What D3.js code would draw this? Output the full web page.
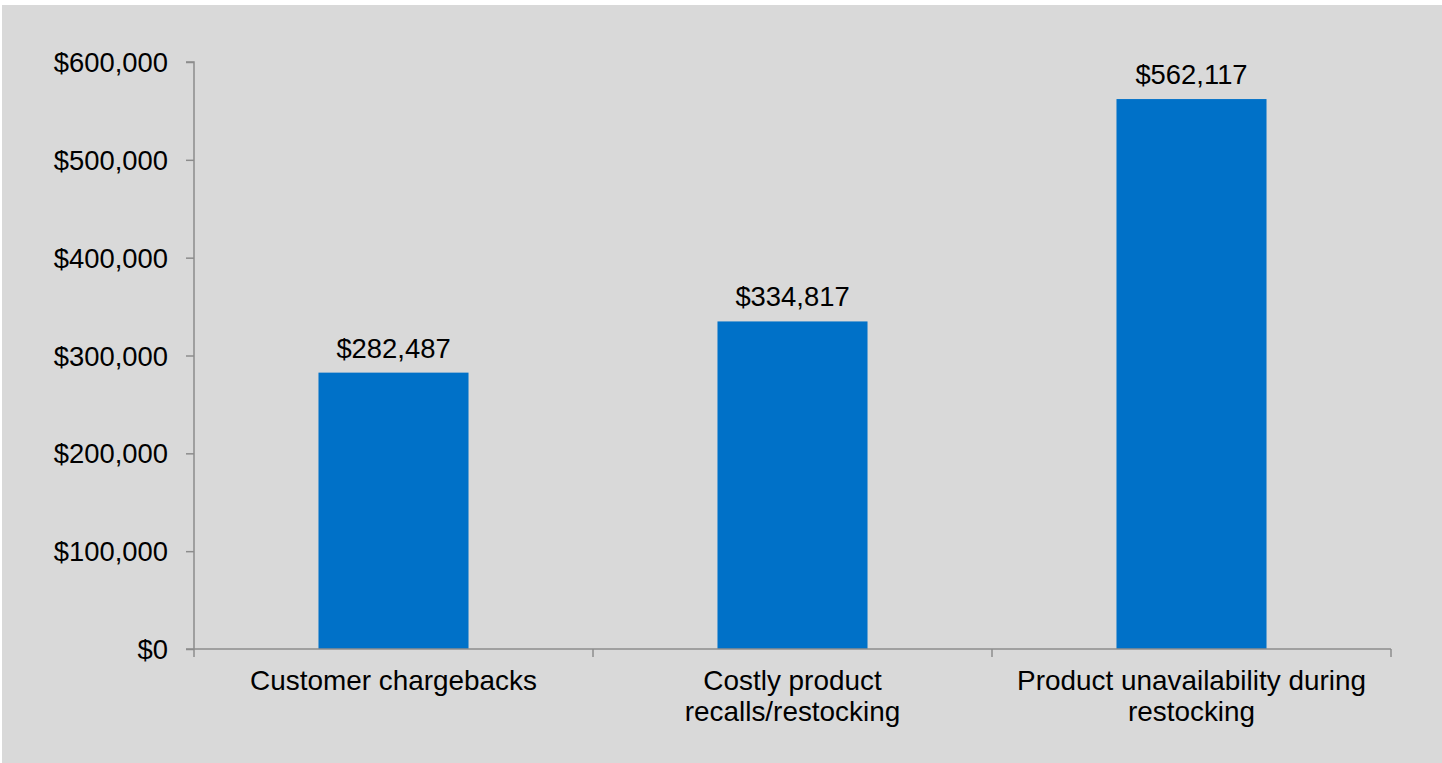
<!DOCTYPE html>
<html>
<head>
<meta charset="utf-8">
<script src="https://cdn.jsdelivr.net/npm/d3@7"></script>
<style>
  html, body { margin: 0; padding: 0; background: #ffffff; }
  svg { display: block; }
  text { font-family: "Liberation Sans", Arial, sans-serif; fill: #000; }
</style>
</head>
<body>
<svg id="chart" width="1442" height="763"></svg>
<script>
// Cost categories (each label broken into display lines) and their values
const categories = [
  ["Customer chargebacks"],
  ["Costly product", "recalls/restocking"],
  ["Product unavailability during", "restocking"]
];
const values = [282487, 334817, 562117];
const yTicks = [0, 100000, 200000, 300000, 400000, 500000, 600000];

const svg = d3.select("#chart");
const W = 1442, H = 763;

// panel background
svg.append("rect").attr("x", 2).attr("y", 5)
  .attr("width", W - 2).attr("height", H - 5).attr("fill", "#d9d9d9");

const plotLeft = 194, plotRight = 1391, plotTop = 62, plotBottom = 649;
const numSize = 27.4;
const catSize = 27.9;
const axisColor = "#8c8c8c";

const keys = categories.map((c, i) => i);
const x = d3.scaleBand().domain(keys).range([plotLeft, plotRight]).paddingInner(0.624).paddingOuter(0.312);
const xOuter = d3.scaleBand().domain(keys).range([plotLeft, plotRight]);
const y = d3.scaleLinear().domain([0, 600000]).range([plotBottom, plotTop]);

const fmt = v => "$" + d3.format(",")(v);

// bars
svg.append("g").selectAll("rect").data(values).join("rect")
  .attr("x", (d, i) => x(i))
  .attr("width", x.bandwidth())
  .attr("y", d => y(d))
  .attr("height", d => y(0) - y(d))
  .attr("fill", "#0071c8");

// value labels
svg.append("g").selectAll("text").data(values).join("text")
  .attr("x", (d, i) => x(i) + x.bandwidth() / 2)
  .attr("y", d => y(d) - 15)
  .attr("text-anchor", "middle")
  .attr("font-size", numSize)
  .text(d => fmt(d));

// y axis
const yAxis = svg.append("g").attr("transform", `translate(${plotLeft},0)`)
  .call(d3.axisLeft(y).tickValues(yTicks).tickFormat(fmt).tickSize(8).tickPadding(18));
yAxis.select(".domain").attr("stroke", axisColor).attr("stroke-width", 1.5)
  .attr("d", `M-8,${plotTop}H0V${plotBottom}`);
yAxis.selectAll(".tick line").attr("stroke", axisColor).attr("stroke-width", 1.5);
yAxis.selectAll(".tick text")
  .attr("font-size", numSize)
  .attr("font-family", "Liberation Sans, Arial, sans-serif")
  .attr("fill", "#000")
  .attr("dy", "0.35em");

// x axis: category boundaries carry the ticks
const xAxis = svg.append("g").attr("transform", `translate(0,${plotBottom})`);
xAxis.append("path").attr("stroke", axisColor).attr("stroke-width", 1.5).attr("fill", "none")
  .attr("d", `M${plotLeft - 8},0H${plotRight}`);
const bounds = keys.map(k => xOuter(k)).concat([plotRight]);
xAxis.selectAll("line.b").data(bounds).join("line")
  .attr("class", "b")
  .attr("x1", d => d).attr("x2", d => d)
  .attr("y1", 0).attr("y2", 8)
  .attr("stroke", axisColor).attr("stroke-width", 1.5);

// category labels
const labels = xAxis.selectAll("text.cat").data(categories).join("text")
  .attr("class", "cat")
  .attr("text-anchor", "middle")
  .attr("font-size", catSize)
  .attr("transform", (d, i) => `translate(${xOuter(i) + xOuter.bandwidth() / 2},41)`);
labels.selectAll("tspan").data(d => d).join("tspan")
  .attr("x", 0)
  .attr("y", (d, j) => j * 31)
  .text(d => d);
</script>
</body>
</html>
